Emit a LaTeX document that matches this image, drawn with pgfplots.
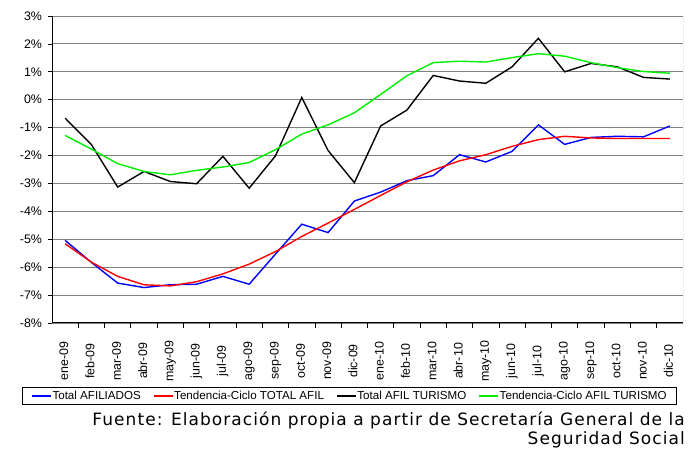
\documentclass[border=0pt]{standalone}
\usepackage{fontspec}
\setmainfont{Liberation Sans}
\newfontfamily\fuente[LetterSpace=6.2]{DejaVu Sans}
\usepackage{pgfplots}
\pgfplotsset{compat=1.18}
\definecolor{verde}{RGB}{0,240,0}

\begin{document}
\begin{tikzpicture}
\useasboundingbox (0,0) rectangle (688bp,450bp);
\begin{axis}[
    at={(52bp,127bp)}, anchor=south west,
    scale only axis, width=631bp, height=307bp,
    xmin=-0.5, xmax=23.5, ymin=-8, ymax=3,
    axis x line*=bottom, axis y line*=left,
    axis line style={line width=1bp, black},
    xtick={0,...,23},
    xticklabels={ene-09,feb-09,mar-09,abr-09,may-09,jun-09,jul-09,ago-09,sep-09,oct-09,nov-09,dic-09,
                 ene-10,feb-10,mar-10,abr-10,may-10,jun-10,jul-10,ago-10,sep-10,oct-10,nov-10,dic-10},
    ytick={-8,...,3},
    yticklabels={-8\%,-7\%,-6\%,-5\%,-4\%,-3\%,-2\%,-1\%,0\%,1\%,2\%,3\%},
    tick align=outside,
    major x tick style={draw=none},
    minor x tick num=1,
    minor tick length=5bp, major tick length=4bp,
    tick style={black, line width=0.8bp},
    tick label style={font=\fontsize{12.4bp}{14bp}\selectfont},
    yticklabel style={xshift=-2.5bp},
    xticklabel style={yshift=-34bp, rotate=90, anchor=center, text height=8.6bp, text depth=2.5bp},
    ymajorgrids, grid style={black!50, line width=0.9bp},
    legend columns=4,
    legend cell align=left,
    legend style={at={(-0.048,-0.2094)}, anchor=north west, draw=black, line width=0.8bp,
        inner xsep=9bp, inner ysep=2.4bp,
        font=\fontsize{11.6bp}{13bp}\selectfont,
        nodes={inner sep=1bp},
        /tikz/every even column/.append style={column sep=11bp}},
    legend image code/.code={\draw[#1, draw=., line width=1.4bp] (0bp,0bp) -- (19bp,0bp);},
]
\draw[black!50, line width=0.9bp] (rel axis cs:1,0) -- (rel axis cs:1,1);

\addplot[color=blue, line width=1.4bp] coordinates {
(0,-5.04) (1,-5.83) (2,-6.57) (3,-6.73) (4,-6.63) (5,-6.61) (6,-6.33) (7,-6.61)
(8,-5.53) (9,-4.46) (10,-4.76) (11,-3.63) (12,-3.31) (13,-2.90) (14,-2.72) (15,-1.97)
(16,-2.23) (17,-1.85) (18,-0.90) (19,-1.60) (20,-1.35) (21,-1.31) (22,-1.33) (23,-0.94)};
\addlegendentry{Total AFILIADOS}

\addplot[color=red, line width=1.4bp] coordinates {
(0,-5.16) (1,-5.82) (2,-6.33) (3,-6.63) (4,-6.67) (5,-6.52) (6,-6.24) (7,-5.89)
(8,-5.44) (9,-4.90) (10,-4.42) (11,-3.93) (12,-3.43) (13,-2.94) (14,-2.52) (15,-2.19)
(16,-1.97) (17,-1.67) (18,-1.43) (19,-1.31) (20,-1.37) (21,-1.39) (22,-1.39) (23,-1.39)};
\addlegendentry{Tendencia-Ciclo TOTAL AFIL}

\addplot[color=black, line width=1.4bp] coordinates {
(0,-0.66) (1,-1.61) (2,-3.13) (3,-2.57) (4,-2.93) (5,-3.01) (6,-2.03) (7,-3.17)
(8,-2.01) (9,0.08) (10,-1.82) (11,-2.97) (12,-0.94) (13,-0.37) (14,0.87) (15,0.67)
(16,0.59) (17,1.18) (18,2.20) (19,1.00) (20,1.30) (21,1.18) (22,0.80) (23,0.74)};
\addlegendentry{Total AFIL TURISMO}

\addplot[color=verde, line width=1.4bp] coordinates {
(0,-1.28) (1,-1.77) (2,-2.29) (3,-2.57) (4,-2.69) (5,-2.53) (6,-2.41) (7,-2.25)
(8,-1.79) (9,-1.23) (10,-0.90) (11,-0.47) (12,0.19) (13,0.86) (14,1.33) (15,1.38)
(16,1.35) (17,1.51) (18,1.65) (19,1.56) (20,1.33) (21,1.15) (22,1.01) (23,0.95)};
\addlegendentry{Tendencia-Ciclo AFIL TURISMO}
\end{axis}

\node[anchor=base east, inner sep=0, font=\fuente\fontsize{17bp}{19bp}\selectfont]
  at (685bp,25bp) {Fuente: Elaboración propia a partir de Secretaría General de la};
\node[anchor=base east, inner sep=0, font=\fuente\fontsize{17bp}{19bp}\selectfont]
  at (685bp,6bp) {Seguridad Social};
\end{tikzpicture}
\end{document}
